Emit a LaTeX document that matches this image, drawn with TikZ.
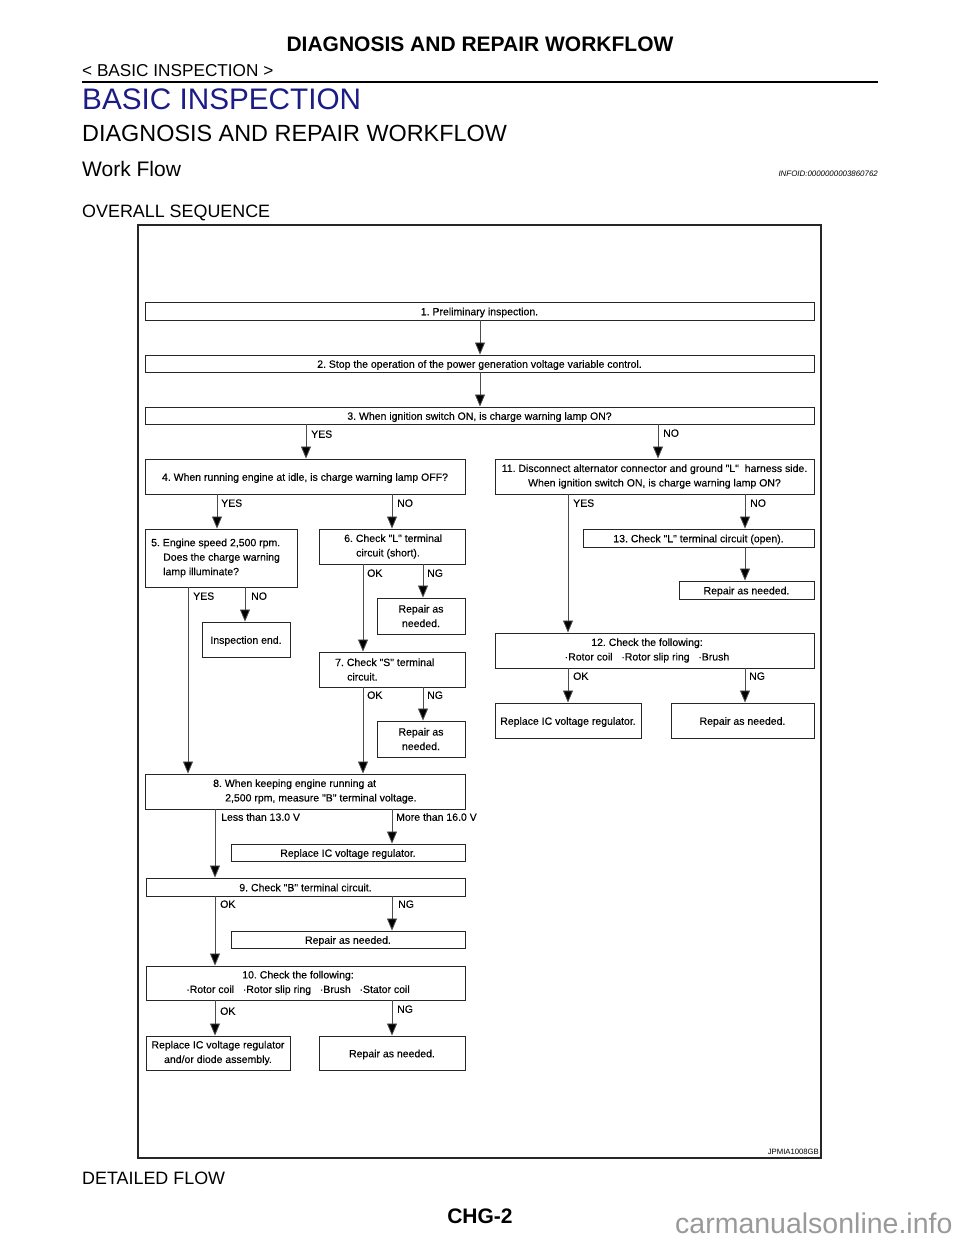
\documentclass[tikz,border=0pt]{standalone}
\usepackage{fontspec}
\setmainfont{Liberation Sans}
\newfontfamily\boxfam{Liberation Sans}[FakeBold=0.25]
\usetikzlibrary{arrows.meta}
\newcommand\boxfont{\boxfam\fontsize{10.5}{14.5}\selectfont}
\definecolor{navy}{RGB}{28,28,135}
\frenchspacing
\begin{document}
\begin{tikzpicture}[x=1pt,y=-1pt,
  box/.style={draw=black!85, line width=0.9pt, inner sep=0pt, align=center, font=\boxfont},
  one/.style={text height=8.5pt, text depth=0pt},
  arr/.style={draw=black!70, line width=0.8pt, -{Triangle[width=10pt,length=12pt,fill=black]}},
  lbl/.style={anchor=west, inner sep=0pt, font=\boxfont, text height=7.5pt, text depth=0pt},
  txt/.style={anchor=west, inner sep=0pt, align=left, font=\boxfont},
  ctxt/.style={inner sep=0pt, align=center, font=\boxfont},
  hdr/.style={anchor=base west, inner sep=0pt}]
\useasboundingbox (0,0) rectangle (960,1242);
\fill[white] (0,0) rectangle (960,1242);
% header
\node[anchor=base, inner sep=0pt, font=\fontsize{21}{21}\selectfont\bfseries] (title) at (480,51.5) {DIAGNOSIS AND REPAIR WORKFLOW};
\node[hdr, font=\fontsize{17.2}{17.2}\selectfont] (sect) at (82,76) {< BASIC INSPECTION >};
\draw[line width=2.6pt] (82,82) -- (878,82);
\node[hdr, font=\fontsize{29.7}{29.7}\selectfont, text=navy] (chap) at (82,109.6) {BASIC INSPECTION};
\node[hdr, font=\fontsize{23.4}{23.4}\selectfont] (sub) at (82,141.4) {DIAGNOSIS AND REPAIR WORKFLOW};
\node[hdr, font=\fontsize{21}{21}\selectfont] (wf) at (82,176.5) {Work Flow};
\node[anchor=base east, inner sep=0pt, font=\fontsize{7.9}{7.9}\selectfont\itshape] (info) at (878,176.8) {INFOID:0000000003860762};
\node[hdr, font=\fontsize{17.9}{17.9}\selectfont] (ovs) at (82,217.4) {OVERALL SEQUENCE};
% frame
\draw[line width=1.6pt, black!85] (138,225) rectangle (821,1158);
\node[anchor=base east, inner sep=0pt, font=\fontsize{7.7}{7.7}\selectfont] (fig) at (819,1154.7) {JPMIA1008GB};
\node[hdr, font=\fontsize{17.9}{17.9}\selectfont] (det) at (82,1184.4) {DETAILED FLOW};
\node[anchor=base, inner sep=0pt, font=\fontsize{21}{21}\selectfont\bfseries] (page) at (480,1223.5) {CHG-2};
\node[anchor=base west, inner sep=0pt, font=\fontsize{28.5}{28.5}\selectfont, text=black!40] (wm) at (675,1233) {carmanualsonline.info};

% boxes
\node[box, one, minimum width=669pt, minimum height=18pt] (b1) at (479.5,311) {1. Preliminary inspection.};
\node[box, one, minimum width=669pt, minimum height=17pt] (b2) at (479.5,363.5) {2. Stop the operation of the power generation voltage variable control.};
\node[box, one, minimum width=669pt, minimum height=17pt] (b3) at (479.5,415.5) {3. When ignition switch ON, is charge warning lamp ON?};
\node[box, one, minimum width=320pt, minimum height=35pt] (b4) at (305,476.5) {4. When running engine at idle, is charge warning lamp OFF?};
\node[box, minimum width=319pt, minimum height=35pt] (b11) at (654.5,476.5) {11. Disconnect alternator connector and ground "L"~ harness side.\\When ignition switch ON, is charge warning lamp ON?};
\node[box, minimum width=152pt, minimum height=58pt] (b5) at (221,558) {};
\node[txt] (t5) at (151,558) {5. Engine speed 2,500 rpm.\\\hspace*{12pt}Does the charge warning\\\hspace*{12pt}lamp illuminate?};
\node[box, minimum width=146pt, minimum height=35pt] (b6) at (392,546.5) {};
\node[txt] (t6) at (344,546.5) {6. Check "L" terminal\\\hspace*{12pt}circuit (short).};
\node[box, one, minimum width=88pt, minimum height=35pt] (bend) at (246,639.5) {Inspection end.};
\node[box, minimum width=88pt, minimum height=36pt] (r6) at (421,616) {Repair as\\needed.};
\node[box, minimum width=146pt, minimum height=35pt] (b7) at (392,669.5) {};
\node[txt] (t7) at (335,669.5) {7. Check "S" terminal\\\hspace*{12pt}circuit.};
\node[box, minimum width=88pt, minimum height=36pt] (r7) at (421,739) {Repair as\\needed.};
\node[box, minimum width=320pt, minimum height=35pt] (b8) at (305,791.5) {};
\node[txt] (t8) at (213,791.5) {8. When keeping engine running at\\\hspace*{12pt}2,500 rpm, measure "B" terminal voltage.};
\node[box, one, minimum width=234pt, minimum height=17pt] (rep8) at (348,852.5) {Replace IC voltage regulator.};
\node[box, one, minimum width=319pt, minimum height=18pt] (b9) at (305.5,887) {9. Check "B" terminal circuit.};
\node[box, one, minimum width=234pt, minimum height=17pt] (r9) at (348,939.5) {Repair as needed.};
\node[box, minimum width=319pt, minimum height=34pt] (b10) at (305.5,983) {};
\node[ctxt] (t10) at (298,983) {10. Check the following:\\·Rotor coil~~ ·Rotor slip ring~~ ·Brush~~ ·Stator coil};
\node[box, minimum width=144pt, minimum height=34pt] (rep10) at (218,1053) {Replace IC voltage regulator\\and/or diode assembly.};
\node[box, one, minimum width=146pt, minimum height=34pt] (r10) at (392,1053) {Repair as needed.};
\node[box, one, minimum width=231pt, minimum height=18pt] (b13) at (698.5,538) {13. Check "L" terminal circuit (open).};
\node[box, one, minimum width=135pt, minimum height=18pt] (r13) at (746.5,590) {Repair as needed.};
\node[box, minimum width=319pt, minimum height=35pt] (b12) at (654.5,650.5) {};
\node[ctxt] (t12) at (647,650.5) {12. Check the following:\\·Rotor coil~~ ·Rotor slip ring~~ ·Brush};
\node[box, one, minimum width=146pt, minimum height=35pt] (rep12) at (568,720.5) {Replace IC voltage regulator.};
\node[box, one, minimum width=143pt, minimum height=35pt] (r12) at (742.5,720.5) {Repair as needed.};

% connectors
\draw[arr] (b1.south -| 480,0) -- (b2.north -| 480,0);
\draw[arr] (b2.south -| 480,0) -- (b3.north -| 480,0);
\draw[arr] (b3.south -| 306,0) -- (b4.north -| 306,0);
\draw[arr] (b3.south -| 658,0) -- (b11.north -| 658,0);
\draw[arr] (b4.south -| 217,0) -- (b5.north -| 217,0);
\draw[arr] (b4.south -| 392,0) -- (b6.north -| 392,0);
\draw[arr] (b5.south -| 188,0) -- (b8.north -| 188,0);
\draw[arr] (b5.south -| 245,0) -- (bend.north -| 245,0);
\draw[arr] (b6.south -| 363,0) -- (b7.north -| 363,0);
\draw[arr] (b6.south -| 423,0) -- (r6.north -| 423,0);
\draw[arr] (b7.south -| 363,0) -- (b8.north -| 363,0);
\draw[arr] (b7.south -| 423,0) -- (r7.north -| 423,0);
\draw[arr] (b8.south -| 215,0) -- (b9.north -| 215,0);
\draw[arr] (b8.south -| 392,0) -- (rep8.north -| 392,0);
\draw[arr] (b9.south -| 215,0) -- (b10.north -| 215,0);
\draw[arr] (b9.south -| 392,0) -- (r9.north -| 392,0);
\draw[arr] (b10.south -| 215,0) -- (rep10.north -| 215,0);
\draw[arr] (b10.south -| 392,0) -- (r10.north -| 392,0);
\draw[arr] (b11.south -| 568,0) -- (b12.north -| 568,0);
\draw[arr] (b11.south -| 745,0) -- (b13.north -| 745,0);
\draw[arr] (b13.south -| 745,0) -- (r13.north -| 745,0);
\draw[arr] (b12.south -| 568,0) -- (rep12.north -| 568,0);
\draw[arr] (b12.south -| 745,0) -- (r12.north -| 745,0);

% labels
\node[lbl] (l1) at (311,434) {YES};
\node[lbl] (l2) at (663,433) {NO};
\node[lbl] (l3) at (221,503) {YES};
\node[lbl] (l4) at (397,503) {NO};
\node[lbl] (l5) at (193,596) {YES};
\node[lbl] (l6) at (251,596) {NO};
\node[lbl] (l7) at (367,573) {OK};
\node[lbl] (l8) at (427,573) {NG};
\node[lbl] (l9) at (367,695) {OK};
\node[lbl] (l10) at (427,695) {NG};
\node[lbl] (l11) at (221,817) {Less than 13.0 V};
\node[lbl] (l12) at (396,817) {More than 16.0 V};
\node[lbl] (l13) at (220,904) {OK};
\node[lbl] (l14) at (398,904) {NG};
\node[lbl] (l15) at (220,1011) {OK};
\node[lbl] (l16) at (397,1009) {NG};
\node[lbl] (l17) at (573,503) {YES};
\node[lbl] (l18) at (750,503) {NO};
\node[lbl] (l19) at (573,676) {OK};
\node[lbl] (l20) at (749,676) {NG};
\end{tikzpicture}
\end{document}
